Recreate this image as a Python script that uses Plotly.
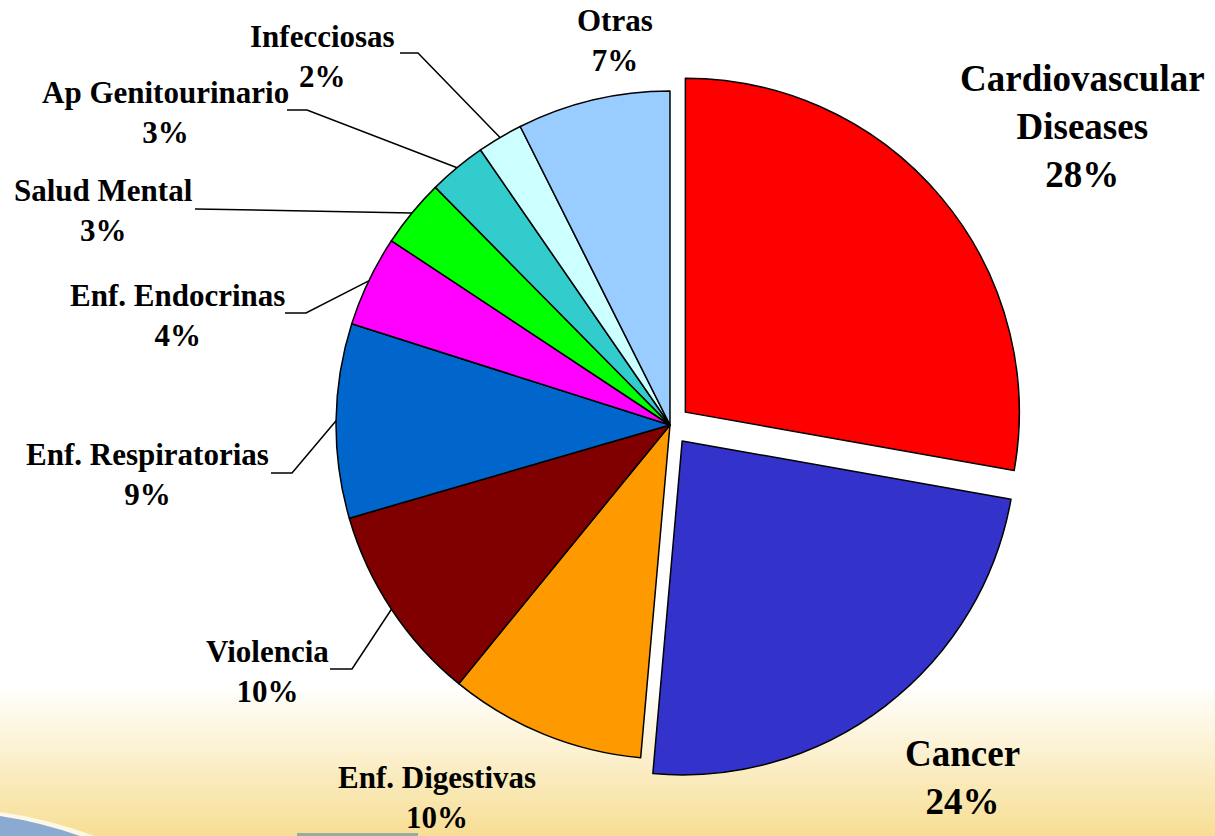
import math
import plotly.graph_objects as go

# ---------------- data ----------------
categories = ["Cardiovascular Diseases", "Cancer", "Enf. Digestivas", "Violencia",
              "Enf. Respiratorias", "Enf. Endocrinas", "Salud Mental",
              "Ap Genitourinario", "Infecciosas", "Otras"]
label_text = ["Cardiovascular<br>Diseases", "Cancer", "Enf. Digestivas", "Violencia",
              "Enf. Respiratorias", "Enf. Endocrinas", "Salud Mental",
              "Ap Genitourinario", "Infecciosas", "Otras"]
values = [27.8, 23.6, 9.5, 9.6, 9.4, 4.4, 3.3, 2.8, 2.2, 7.4]
colors = ["#FF0000", "#3333CC", "#FF9900", "#800000", "#0066CC",
          "#FF00FF", "#00FF00", "#33CCCC", "#CCFFFF", "#99CCFF"]
pulls = [0.06, 0.06, 0, 0, 0, 0, 0, 0, 0, 0]

# ---------------- layout / style ----------------
W, H = 1215, 836
CX, CY = 670.0, 425.0          # pie centre in px
HALF = 354.0                   # half of domain size in px
R = HALF / (1 + max(pulls))    # pie radius in px

# label centres (px) and font sizes
label_pos = [(1082, 127), (962, 777), (437, 797), (267, 671), (147, 474),
             (177, 315), (103, 210), (165, 112), (322, 57), (615, 40)]
label_size = [37, 37, 31, 31, 31, 31, 31, 31, 31, 31]
# leader lines: (x start, x elbow, y) in px, None = no leader
leaders = [None, None, None, (330, 352, 669), (271, 292, 473), (285, 306, 313),
           (195, 196, 209), (287, 307, 110), (400, 418, 53), None]

FONT = "Liberation Serif, Times New Roman, serif"


def px(x):
    return x / W


def py(y):
    return 1 - y / H


fig = go.Figure(go.Pie(
    labels=categories, values=values, sort=False, direction="clockwise",
    rotation=0, pull=pulls, textinfo="none", hoverinfo="label+percent",
    marker=dict(colors=colors, line=dict(color="#000000", width=1.5)),
    domain=dict(x=[px(CX - HALF), px(CX + HALF)], y=[py(CY + HALF), py(CY - HALF)]),
    showlegend=False,
))

shapes = []
# background gradient band at the bottom
g0, g1 = 685, H
steps = 40
top_c = (255, 255, 255)
bot_c = (247, 222, 148)
for i in range(steps):
    y0 = g0 + (g1 - g0) * i / steps
    y1 = g0 + (g1 - g0) * (i + 1) / steps + 0.5
    t = (i + 0.5) / steps
    c = tuple(round(top_c[k] + (bot_c[k] - top_c[k]) * t) for k in range(3))
    shapes.append(dict(type="rect", xref="paper", yref="paper", x0=0, x1=1,
                       y0=py(y1), y1=py(y0), fillcolor="rgb(%d,%d,%d)" % c,
                       line=dict(width=0), layer="below"))
# swoosh at bottom-left
shapes.append(dict(type="path", xref="paper", yref="paper", layer="below",
                   path="M 0 %f Q %f %f %f %f L 0 %f Z" % (
                       py(812), px(45), py(818), px(95), py(836), py(836)),
                   fillcolor="rgba(255,255,255,0.75)", line=dict(width=0)))
shapes.append(dict(type="path", xref="paper", yref="paper", layer="below",
                   path="M 0 %f Q %f %f %f %f L 0 %f Z" % (
                       py(816), px(40), py(822), px(80), py(836), py(836)),
                   fillcolor="#8AAAD2", line=dict(width=0)))
shapes.append(dict(type="rect", xref="paper", yref="paper", layer="below",
                   x0=px(297), x1=px(418), y0=py(836), y1=py(833),
                   fillcolor="#97AC9C", line=dict(width=0)))

# leader lines, ending on the pie edge at each slice's mid angle
total = sum(values)
cum = 0.0
for v, ld in zip(values, leaders):
    mid = (cum + v / 2) / total * 2 * math.pi
    cum += v
    if ld is None:
        continue
    ex = CX + R * math.sin(mid)
    ey = CY - R * math.cos(mid)
    xs, xe, yl = ld
    shapes.append(dict(type="path", xref="paper", yref="paper",
                       path="M %f %f L %f %f L %f %f" % (px(xs), py(yl), px(xe), py(yl), px(ex), py(ey)),
                       line=dict(color="#000000", width=1.5)))

annotations = []
for lab, v, (lx, ly), fs in zip(label_text, values, label_pos, label_size):
    pct = round(v / total * 100)
    annotations.append(dict(
        x=px(lx), y=py(ly), xref="paper", yref="paper", showarrow=False,
        xanchor="center", yanchor="middle", align="center",
        text="%s<br>%d%%" % (lab, pct),
        font=dict(family=FONT, size=fs, color="#000000", weight="bold")))

fig.update_layout(
    width=W, height=H, margin=dict(l=0, r=0, t=0, b=0),
    paper_bgcolor="#FFFFFF", plot_bgcolor="#FFFFFF",
    shapes=shapes, annotations=annotations,
)

fig.write_html("out.html", config={"displayModeBar": False},
               post_script="document.body.style.margin='0';document.body.style.overflow='hidden';")
